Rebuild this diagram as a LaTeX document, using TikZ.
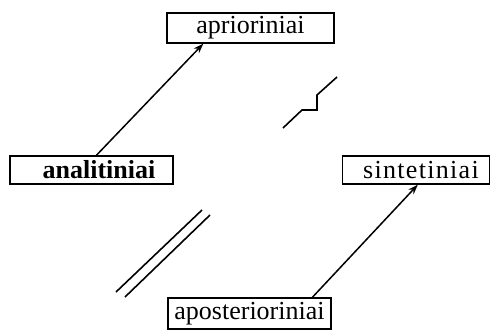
\documentclass[tikz,border=0pt]{standalone}
\usepackage{fontspec}
\setmainfont{Liberation Serif}
\usetikzlibrary{arrows.meta}
\begin{document}
\begin{tikzpicture}[x=1pt,y=1pt,
  lbl/.style={draw, line width=1.3pt, inner sep=0pt, font=\fontsize{26}{28}\selectfont},
  conn/.style={line width=1.5pt, -{Stealth[length=10pt,width=7pt]}},
  plain/.style={line width=1.6pt}]
\useasboundingbox (0,0) rectangle (490,330);
\node[lbl, minimum width=167pt, minimum height=30pt] (apr) at (250.5,302) {aprioriniai};
\node[lbl, minimum width=163pt, minimum height=28pt, font=\bfseries\fontsize{26}{28}\selectfont] (ana) at (91.5,160) {\hspace*{15pt}analitiniai};
\node[lbl, minimum width=147pt, minimum height=28pt] (sin) at (416,160) {\hspace*{10pt}\addfontfeature{LetterSpace=5}sintetiniai};
\node[lbl, minimum width=163pt, minimum height=31pt] (apo) at (249.5,16.5) {aposterioriniai};
\draw[conn] ([xshift=87pt]ana.north west) -- ([xshift=37pt]apr.south west);
\draw[conn] ([xshift=145pt]apo.north west) -- ([xshift=76pt]sin.south west);
\coordinate (d1a) at (116,38);
\coordinate (d1b) at (202,120);
\coordinate (d2a) at (125,33);
\coordinate (d2b) at (210,115);
\draw[plain] (d1a) -- (d1b);
\draw[plain] (d2a) -- (d2b);
\coordinate (z1) at (283,202);
\coordinate (z2) at (302,220);
\coordinate (z3) at (317,220);
\coordinate (z4) at (317,235);
\coordinate (z5) at (337,253);
\draw[plain] (z1) -- (z2) -- (z3) -- (z4) -- (z5);
\end{tikzpicture}
\end{document}
